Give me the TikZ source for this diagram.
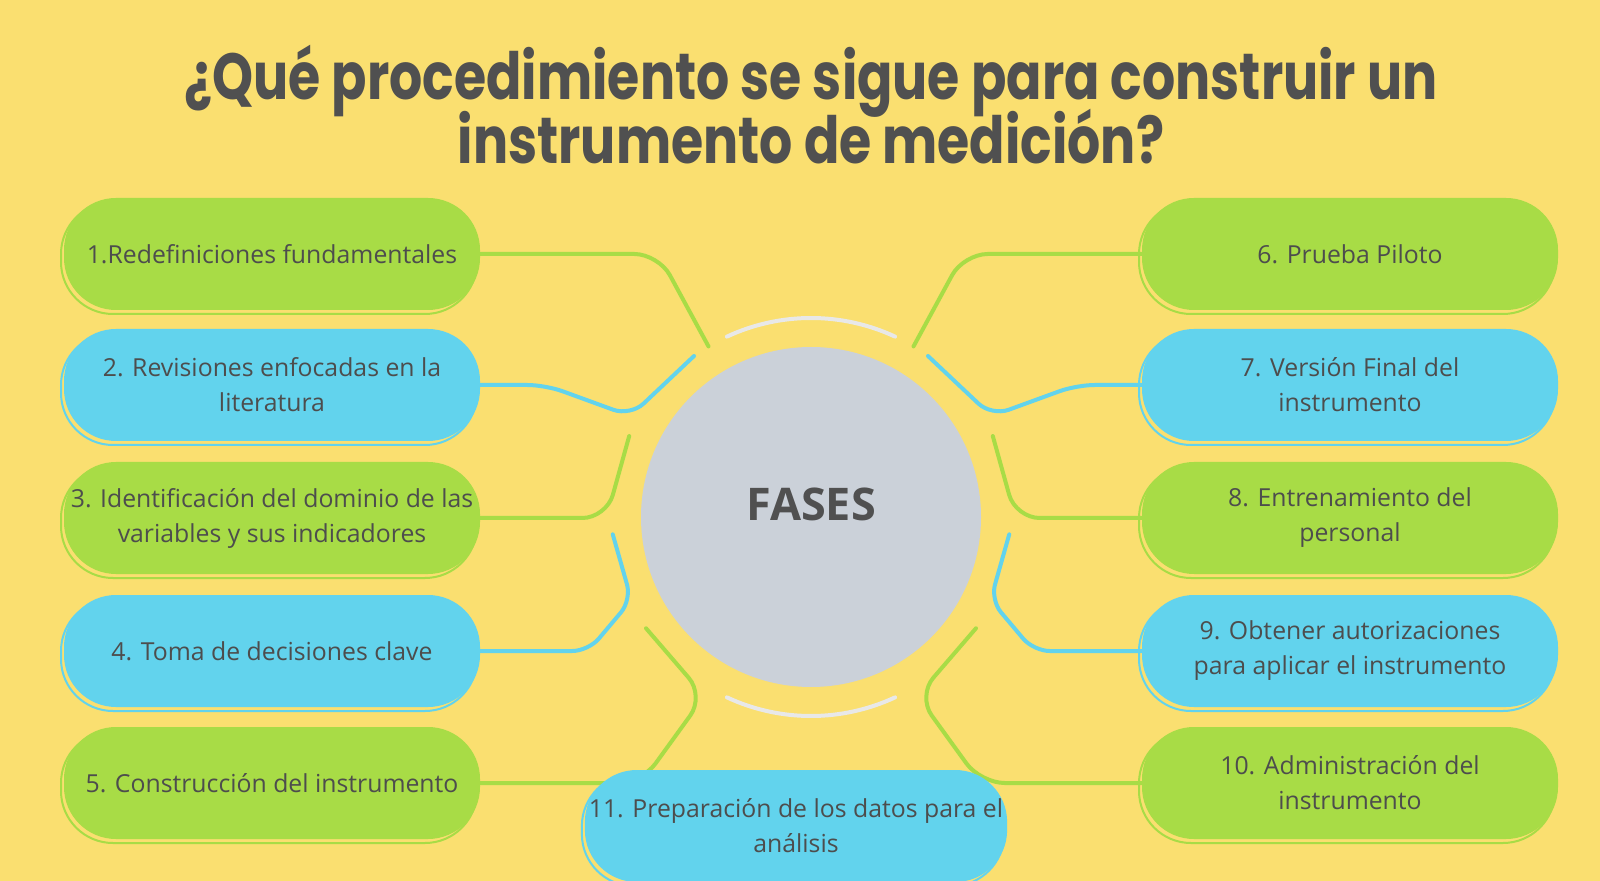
\documentclass[tikz,border=0pt]{standalone}
\usepackage{fontspec}
\setmainfont{Open Sans}
\newfontfamily\titulofont{Poppins}[FakeStretch=0.8]
\usetikzlibrary{calc}
\definecolor{fondo}{HTML}{FADF70}
\definecolor{verde}{HTML}{A8DC46}
\definecolor{celeste}{HTML}{62D3ED}
\definecolor{gristxt}{HTML}{4D4D4D}
\definecolor{titgris}{HTML}{505050}
\definecolor{circulo}{HTML}{CBD1D9}
\definecolor{arco}{HTML}{E8E8E8}

\tikzset{
  fase/.style={fill=#1, rounded corners=26pt, minimum width=208pt, minimum height=56pt,
    inner sep=2pt, align=center, text=gristxt, font=\fontsize{12.4}{17.5}\selectfont,
    preaction={draw=#1, line width=1pt, transform canvas={shift={(-1.5pt,-2pt)}}}},
  enlace/.style={draw=#1, line width=2pt, line cap=round, rounded corners=12pt},
  titulo/.style={text=titgris, inner sep=0pt, font=\titulofont\fontsize{32.6}{36}\selectfont\bfseries},
  arcogris/.style={draw=arco, line width=2pt, line cap=round},
}

\begin{document}
\begin{tikzpicture}[x=0.5pt, y=-0.5pt]
    \useasboundingbox (0,0) rectangle (1600,881);
    \fill[fondo] (0,0) rectangle (1600,881);

    % Título
    \node[titulo, anchor=base] (tit1) at (811,100) {¿Qué procedimiento se sigue para construir un};
    \node[titulo, anchor=base] (tit2) at (811,164) {instrumento de medición?};

    % Círculo central
    \node[circle, fill=circulo, minimum size=170pt, inner sep=0pt] (c) at (811,517) {};
    \node[text=titgris, font=\bfseries\fontsize{22.5}{27}\selectfont] (fases) at ([yshift=6.5pt]c.center) {FASES};
    \draw[arcogris] ($(c)+(115:99.5pt)$) arc[start angle=115, end angle=65, radius=99.5pt];
    \draw[arcogris] ($(c)+(-115:99.5pt)$) arc[start angle=-115, end angle=-65, radius=99.5pt];

    % Extremos libres de los enlaces
    \foreach \n/\a in {1/121,2/126,3/156,4/185,5/214,6/59,7/54,8/24,9/-5,10/-34}
        \coordinate (e\n) at ($(c)+(\a:99.5pt)$);

    % Fases de la izquierda
    \node[fase=verde] (f1) at (272,254) {1.Redefiniciones fundamentales};
    \node[fase=celeste] (f2) at (272,385) {2. Revisiones enfocadas en la\\literatura};
    \node[fase=verde] (f3) at (272,518) {3. Identificación del dominio de las\\variables y sus indicadores};
    \node[fase=celeste] (f4) at (272,651) {4. Toma de decisiones clave};
    \node[fase=verde] (f5) at (272,783) {5. Construcción del instrumento};

    % Fases de la derecha
    \node[fase=verde] (f6) at (1350,254) {6. Prueba Piloto};
    \node[fase=celeste] (f7) at (1350,385) {7. Versión Final del\\instrumento};
    \node[fase=verde] (f8) at (1350,518) {8. Entrenamiento del\\personal};
    \node[fase=celeste] (f9) at (1350,651) {9. Obtener autorizaciones\\para aplicar el instrumento};
    \node[fase=verde] (f10) at (1350,783) {10. Administración del\\instrumento};

    % Enlaces
    \draw[enlace=verde] (f1.east) -- ++(178,0) -- (e1);
    \draw[enlace=celeste, rounded corners=9pt] (f2.east) -- ++(65,0) -- ++(85,31) -- (e2);
    \draw[enlace=verde] (f3.east) -- ++(126,0) -- (e3);
    \draw[enlace=celeste, rounded corners=8pt] (f4.east) -- ++(108,0) -- ++(43,-51) -- (e4);
    \draw[enlace=verde] (f5.east) -- ++(161,0) -- ++(63,-87) -- (e5);
    \draw[enlace=verde] (f6.west) -- ++(-178,0) -- (e6);
    \draw[enlace=celeste, rounded corners=9pt] (f7.west) -- ++(-65,0) -- ++(-85,31) -- (e7);
    \draw[enlace=verde] (f8.west) -- ++(-126,0) -- (e8);
    \draw[enlace=celeste, rounded corners=8pt] (f9.west) -- ++(-108,0) -- ++(-43,-51) -- (e9);
    \draw[enlace=verde] (f10.west) -- ++(-161,0) -- ++(-63,-87) -- (e10);

    % Fase final, abajo
    \node[fase=celeste] (f11) at (796,826) {11. Preparación de los datos para el\\análisis};
\end{tikzpicture}
\end{document}
